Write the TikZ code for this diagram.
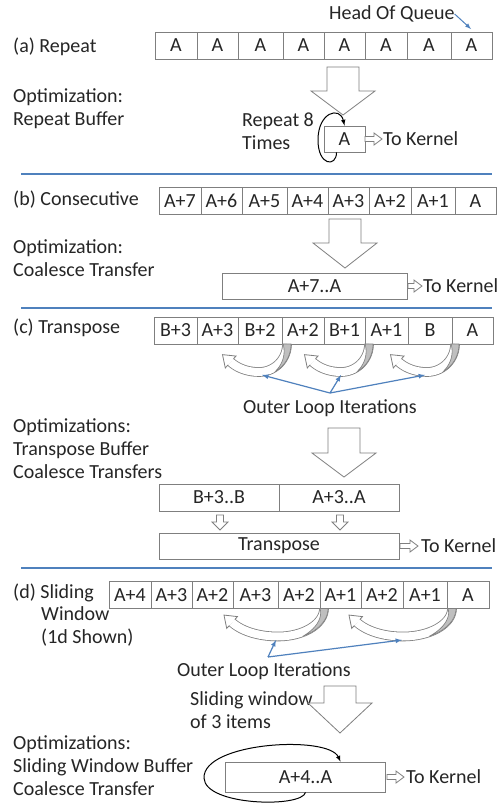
\documentclass[tikz,border=0pt]{standalone}
\usepackage{fontspec}
\setmainfont{Carlito}
\definecolor{sepblue}{HTML}{4F81BD}
\definecolor{edgegray}{HTML}{7F7F7F}
\definecolor{shadegray}{HTML}{BFBFBF}

% hollow block arrows
\newcommand{\blockdown}[4]{% x, top, neck, tip
  \draw[hollow] ({#1-16},#2) -- ({#1+16},#2) -- ({#1+16},#3) -- ({#1+32},#3)
    -- (#1,#4) -- ({#1-32},#3) -- ({#1-16},#3) -- cycle;}
\newcommand{\blockright}[3]{% x from, y, x to
  \draw[hollow] (#1,{#2-2.5}) -- ({#3-8},{#2-2.5}) -- ({#3-8},{#2-6}) -- (#3,#2)
    -- ({#3-8},{#2+6}) -- ({#3-8},{#2+2.5}) -- (#1,{#2+2.5}) -- cycle;}
\newcommand{\smalldown}[3]{% x, top, tip
  \draw[hollow] ({#1-3.5},#2) -- ({#1+3.5},#2) -- ({#1+3.5},{#3-8}) -- ({#1+8},{#3-8})
    -- (#1,#3) -- ({#1-8},{#3-8}) -- ({#1-3.5},{#3-8}) -- cycle;}
% curved band arrow under a row
\newcommand{\turnarrow}[6]{% cx, top, right radius, left radius, depth, end angle
  \draw[edgegray, line width=9.6pt] plot[smooth, samples=30, domain=0:#6]
    ({#1+ifthenelse(\x<90,#3,#4)*cos(\x)},{#2+#5*sin(\x)});
  \draw[white, line width=8pt] plot[smooth, samples=30, domain=0:#6]
    ({#1+ifthenelse(\x<90,#3,#4)*cos(\x)},{#2+#5*sin(\x)});
  \filldraw[fill=shadegray, draw=edgegray, line width=0.6pt]
    plot[smooth, samples=12, domain=0:60] ({#1+(#3+4)*cos(\x)},{#2+(#5+4)*sin(\x)})
    -- plot[smooth, samples=12, domain=60:0] ({#1+(#3-4+\x*8/60)*cos(\x)},{#2+(#5-4+\x*8/60)*sin(\x)}) -- cycle;
  \begin{scope}[shift={({#1+#4*cos(#6)},{#2+#5*sin(#6)})}, rotate={atan2(#5*cos(#6),-#4*sin(#6))}]
    \filldraw[fill=white, draw=edgegray, line width=0.8pt] (0,-4) -- (0,-8) -- (11,0) -- (0,8) -- (0,4);
  \end{scope}}

\begin{document}
\begin{tikzpicture}[x=1pt, y=1pt, yscale=-1, >=latex,
        every node/.style={font=\fontsize{20}{23}\selectfont, text=black!85},
        txt/.style={anchor=west, inner sep=0pt, align=left},
        cell/.style={draw=edgegray, line width=0.8pt, minimum height=27pt, inner sep=0pt},
        hollow/.style={draw=edgegray, fill=white, line width=0.8pt},
        sep/.style={draw=sepblue, line width=1.8pt},
        blu/.style={draw=sepblue, line width=1.2pt, ->},
        loopy/.style={draw=black, line width=1pt, ->}]
    \fill[white] (0,0) rectangle (498,806);
    \useasboundingbox (0,0) rectangle (498,806);

    % (a) repeat
    \node[txt] (hoq) at (329,14) {Head Of Queue};
    \coordinate (hoqend) at (471,29);
    \draw[blu, line width=1pt] (hoq.east) -- (hoqend);
    \node[txt] (laba) at (13,47) {(a) Repeat};
    \foreach \xa/\xb/\lab [count=\i] in {155/197/A,197/238/A,238/283/A,283/324/A,324/365/A,365/407/A,407/451/A,451/492/A}
        \node[cell, minimum width={(\xb-\xa)*1pt}] (a\i) at ({(\xa+\xb)/2},45.5) {\lab};
    \blockdown{343}{67}{91}{115}
    \node[txt] (opta) at (13,109) {Optimization:\\Repeat Buffer};
    \node[txt] (rep8) at (242,131.5) {Repeat 8\\Times};
    \node[cell, minimum width=41pt, minimum height=26pt] (rep) at (344.5,139) {A};
    \draw[loopy] ([xshift=-8pt]rep.south) .. controls +(0,15) and (318,166) .. (318,140)
        .. controls (318,112) and (340,106) .. (rep.north);
    \node[txt] (kera) at (383,139) {To Kernel};
    \blockright{365}{139}{382}
    \draw[sep] (21,174) -- (492,174);

    % (b) consecutive
    \node[txt] (labb) at (13,200) {(b) Consecutive};
    \foreach \xa/\xb/\lab [count=\i] in {159/201/A+7,201/242/A+6,242/287/A+5,287/328/A+4,328/369/A+3,369/411/A+2,411/455/A+1,455/496/A}
        \node[cell, minimum width={(\xb-\xa)*1pt}] (b\i) at ({(\xa+\xb)/2},201) {\lab};
    \blockdown{345}{219}{243}{268}
    \node[txt] (optb) at (13,258) {Optimization:\\Coalesce Transfer};
    \node[cell, minimum width=185pt, minimum height=26pt] (cons) at (314.5,286) {A+7..A};
    \node[txt] (kerb) at (423,286) {To Kernel};
    \blockright{408}{286}{422}
    \draw[sep] (21,308) -- (492,308);

    % (c) transpose
    \node[txt] (labc) at (13,328) {(c) Transpose};
    \foreach \xa/\xb/\lab [count=\i] in {154/197/B+3,197/238/A+3,238/282/B+2,282/324/A+2,324/365/B+1,365/408/A+1,408/452/B,452/493/A}
        \node[cell, minimum width={(\xb-\xa)*1pt}] (c\i) at ({(\xa+\xb)/2},330.5) {\lab};
    \turnarrow{259}{344}{28}{37}{28}{140}
    \turnarrow{341}{344}{28}{37}{28}{140}
    \turnarrow{427}{344}{28}{37}{28}{140}
    \node (iterc) at (330,408) {Outer Loop Iterations};
    \coordinate (cmeet) at (330,393);
    \coordinate (cbot1) at (262,375);
    \coordinate (cbot2) at (341,375);
    \coordinate (cbot3) at (425,375);
    \draw[blu] (cmeet) -- (cbot1);
    \draw[blu] (cmeet) -- (cbot2);
    \draw[blu] (cmeet) -- (cbot3);
    \blockdown{344}{428}{453}{477}
    \node[txt] (optc) at (13,449) {Optimizations:\\Transpose Buffer\\Coalesce Transfers};
    \node[cell, minimum width=120pt] (bhalf) at (219,497.5) {B+3..B};
    \node[cell, minimum width=120pt] (ahalf) at (339,497.5) {A+3..A};
    \smalldown{220}{515}{530}
    \smalldown{340}{515}{530}
    \node[cell, minimum width=240pt, minimum height=26pt] (trans) at (279,546) {Transpose};
    \node[txt] (kerc) at (421,546) {To Kernel};
    \blockright{400}{546}{418}
    \draw[sep] (21,568) -- (492,568);

    % (d) sliding window
    \node[txt] (labd) at (13,593) {(d) Sliding};
    \node[txt] (window) at (41,626.5) {Window\\(1d Shown)};
    \foreach \xa/\xb/\lab [count=\i] in {109/151/A+4,151/192/A+3,192/233/A+2,233/278/A+3,278/320/A+2,320/361/A+1,361/403/A+2,403/447/A+1,447/489/A}
        \node[cell, minimum width={(\xb-\xa)*1pt}] (d\i) at ({(\xa+\xb)/2},595) {\lab};
    \turnarrow{278}{608.5}{46}{53}{28}{150}
    \turnarrow{403}{608.5}{49}{53}{28}{150}
    \node (iterd) at (264,671) {Outer Loop Iterations};
    \coordinate (dmeet) at (268,657);
    \coordinate (dbot1) at (276,640);
    \coordinate (dbot2) at (402,640);
    \draw[blu] (dmeet) -- (dbot1);
    \draw[blu] (dmeet) -- (dbot2);
    \node[txt] (slw) at (190,710.5) {Sliding window\\of 3 items};
    \blockdown{340}{686}{703}{733}
    \node[txt] (optd) at (13,766) {Optimizations:\\Sliding Window Buffer\\Coalesce Transfer};
    \node[cell, minimum width=160pt, minimum height=30pt] (slide) at (305.5,777) {A+4..A};
    \draw[loopy] (slide.south) .. controls (302,808) and (205,806) .. (204,778)
        .. controls (203,742) and (328,735) .. ([xshift=35pt]slide.north);
    \node[txt] (kerd) at (406,777) {To Kernel};
    \blockright{387}{777}{404}
\end{tikzpicture}
\end{document}
